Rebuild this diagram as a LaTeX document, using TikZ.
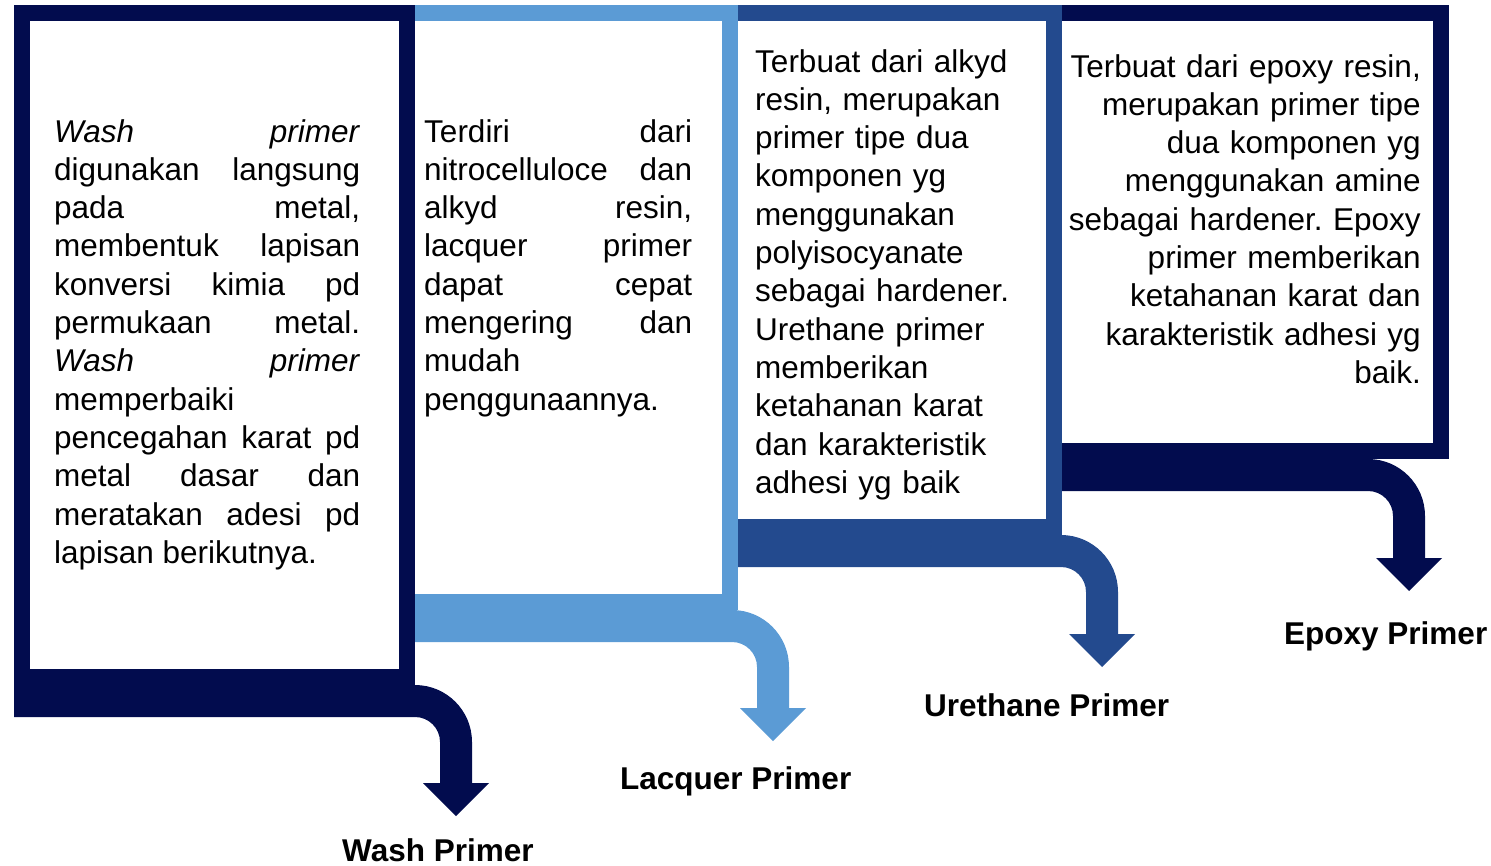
\documentclass[tikz,border=0pt]{standalone}
\usepackage{fontspec}
\setmainfont{Liberation Sans}
\frenchspacing
\definecolor{navy}{HTML}{020C4E}
\definecolor{skyblue}{HTML}{5B9BD5}
\definecolor{midblue}{HTML}{234A8E}
\newcommand{\bodyfont}{\fontsize{31.5}{38.3}\selectfont}
\tikzset{
body/.style={
  inner sep=0pt,
  font=\bodyfont,
  text width=#1
},
primername/.style={inner sep=0pt, anchor=base west, font=\bodyfont\bfseries}
}

\begin{document}
\begin{tikzpicture}[x=1pt,y=-1pt]
\useasboundingbox (0,0) rectangle (1491,865);
% the frames and bent arrows, back to front
\foreach \xa/\xb/\yt/\cx/\yh/\col in {1046/1449/459/1368/558/navy,
  722/1062/535/1061/634/midblue, 399/738/610/732/708/skyblue, 14/415/685/415/783/navy}
{
  \fill[\col] (\xa,5) rectangle (\xb,\yt);
  \fill[white] (\xa+16,21) rectangle (\xb-16,\yt-16);
  \fill[\col] (\xa,\yt) -- (\cx,\yt) arc[start angle=90,end angle=0,radius=57pt]
    -- (\cx+57,\yh) -- (\cx+74,\yh) -- (\cx+41,\yh+33) -- (\cx+8,\yh) -- (\cx+25,\yh)
    -- (\cx+25,\yt+57) arc[start angle=0,end angle=90,radius=25pt] -- (\xa,\yt+32) -- cycle;
}
% the texts
\node[body=306pt, align=justify, anchor=base west] (washtext) at (54,142)
  {\textit{Wash} \textit{primer}\linebreak digunakan langsung\linebreak pada metal,\linebreak
   membentuk lapisan\linebreak konversi kimia pd\linebreak permukaan metal.\linebreak
   \textit{Wash} \textit{primer}\linebreak memperbaiki\newline pencegahan karat pd\linebreak
   metal dasar dan\linebreak meratakan adesi pd\linebreak lapisan berikutnya.};
\node[body=268pt, align=justify, anchor=base west] (lacquertext) at (424,142)
  {Terdiri dari\linebreak nitrocelluloce dan\linebreak alkyd resin,\linebreak lacquer primer\linebreak
   dapat cepat\linebreak mengering dan\linebreak mudah\newline penggunaannya.};
\node[body=285pt, align=left, anchor=base west] (urethanetext) at (755,72)
  {Terbuat dari alkyd\\ resin, merupakan\\ primer tipe dua\\ komponen yg\\ menggunakan\\
   polyisocyanate\\ sebagai hardener.\\ Urethane primer\\ memberikan\\ ketahanan karat\\
   dan karakteristik\\ adhesi yg baik};
\node[body=360pt, align=right, anchor=base east] (epoxytext) at (1421,77)
  {Terbuat dari epoxy resin,\\ merupakan primer tipe\\ dua komponen yg\\ menggunakan amine\\
   sebagai hardener. Epoxy\\ primer memberikan\\ ketahanan karat dan\\ karakteristik adhesi yg\\ baik.};
% the names under the arrows
\node[primername] (wash) at (342,861) {Wash Primer};
\node[primername] (lacquer) at (620,789) {Lacquer Primer};
\node[primername] (urethane) at (924,716) {Urethane Primer};
\node[primername] (epoxy) at (1284,644) {Epoxy Primer};
\end{tikzpicture}
\end{document}
